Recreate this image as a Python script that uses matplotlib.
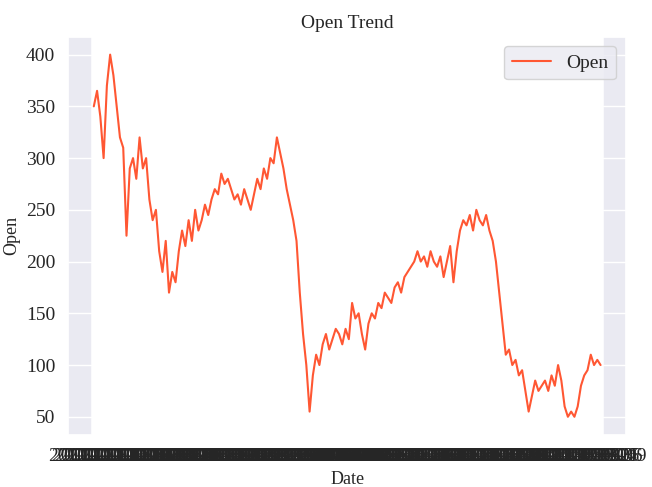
import matplotlib
matplotlib.use("Agg")
import matplotlib.pyplot as plt
import seaborn as sns
import pandas as pd

open_vals = [350, 365, 340, 300, 370, 400, 380, 350, 320, 310, 225, 290, 300, 280, 320, 290, 300, 260,
             240, 250, 210, 190, 220, 170, 190, 180, 210, 230, 215, 240, 220, 250, 230, 240, 255, 245,
             260, 270, 265, 285, 275, 280, 270, 260, 265, 255, 270, 260, 250, 265, 280, 270, 290, 280,
             300, 295, 320, 305, 290, 270, 255, 240, 220, 170, 130, 100, 55, 90, 110, 100, 120, 130,
             115, 125, 135, 130, 120, 135, 125, 160, 145, 150, 130, 115, 140, 150, 145, 160, 155, 170,
             165, 160, 175, 180, 170, 185, 190, 195, 200, 210, 200, 205, 195, 210, 200, 195, 205, 185,
             200, 215, 180, 210, 230, 240, 235, 245, 230, 250, 240, 235, 245, 230, 220, 200, 170, 140,
             110, 115, 100, 105, 90, 95, 75, 55, 70, 85, 75, 80, 85, 75, 90, 80, 100, 85, 60, 50, 55,
             50, 60, 80, 90, 95, 110, 100, 105, 100]
dates = [d.strftime("%Y-%m-%d") for d in pd.date_range("2010-01-04", periods=len(open_vals), freq="B")]

sns.set_theme(style="darkgrid")
plt.rcParams['font.family'] = ['Liberation Serif', 'DejaVu Serif']

fig, ax = plt.subplots(figsize=(6.52, 4.87), dpi=100)
ax.plot(dates, open_vals, color="#FF5733", label="Open")
ax.grid(axis='x', linewidth=4, color='white')
ax.set_title("Open Trend", fontsize=14)
ax.set_xlabel("Date", fontsize=13)
ax.set_ylabel("Open", fontsize=13)
ax.tick_params(axis='both', labelsize=14)
ax.legend(loc="upper right", fontsize=14)
fig.subplots_adjust(left=0.105, right=0.96, top=0.925, bottom=0.107)
fig.savefig("out.png")
